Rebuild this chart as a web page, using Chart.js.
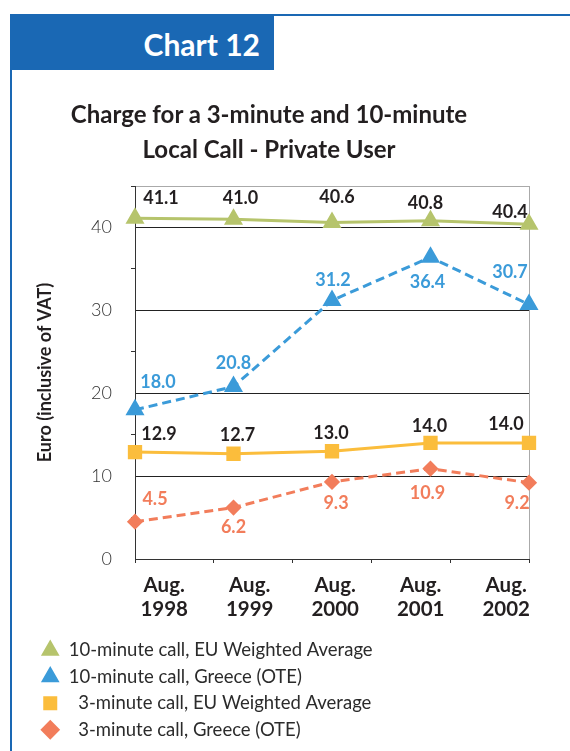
<!DOCTYPE html>
<html>
<head>
<meta charset="utf-8">
<script src="https://cdn.jsdelivr.net/npm/chart.js@4/dist/chart.umd.min.js"></script>
<style>
  html, body { margin: 0; padding: 0; background: #fff; }
  #page { position: relative; width: 570px; height: 751px; overflow: hidden; font-family: Lato, sans-serif; }
  #c { position: absolute; left: 0; top: 0; }
  .bar-top { position: absolute; left: 10px; top: 14px; width: 560px; height: 2px; background: #1a68b4; }
  .bar-left { position: absolute; left: 10px; top: 14px; width: 2px; height: 737px; background: #1a68b4; }
  .header { position: absolute; left: 10px; top: 15px; width: 264px; height: 55px; background: #1a68b4;
            color: #fff; font: bold 30px Lato, sans-serif; text-align: right; box-sizing: border-box;
            padding-right: 14px; line-height: 58px; }
  .title { position: absolute; left: 0; top: 96px; width: 538px; text-align: center; color: #231f20;
           font: bold 24px Lato, sans-serif; line-height: 35px; }
</style>
</head>
<body>
<div id="page">
  <canvas id="c" width="570" height="751"></canvas>
  <div class="bar-top"></div>
  <div class="bar-left"></div>
  <div class="header">Chart 12</div>
  <div class="title">Charge for a 3-minute and 10-minute<br>Local Call - Private User</div>
</div>
<script>
// ---- data ----
const categories = ['Aug. 1998', 'Aug. 1999', 'Aug. 2000', 'Aug. 2001', 'Aug. 2002'];
const tenMinEU = [41.1, 41.0, 40.6, 40.8, 40.4];
const tenMinGreece = [18.0, 20.8, 31.2, 36.4, 30.7];
const threeMinEU = [12.9, 12.7, 13.0, 14.0, 14.0];
const threeMinGreece = [4.5, 6.2, 9.3, 10.9, 9.2];
const yTickLabels = [0, 10, 20, 30, 40];
const seriesNames = [
  '10-minute call, EU Weighted Average',
  '10-minute call, Greece (OTE)',
  '  3-minute call, EU Weighted Average',
  '  3-minute call, Greece (OTE)'
];

// ---- styling (label nudges, in px, relative to each point) ----
const labelShift = [
  [[26,-20],[7,-21],[5,-25],[-5,-18],[-19,-12]],
  [[23,-28],[0,-23],[1,-20],[-3,25],[-19,-32]],
  [[24,-18],[4,-19],[-1,-18],[-1,-17],[-23,-19]],
  [[20,-23],[0,20],[4,21],[-3,25],[-12,20]]
];
const labelColors = ['#231f20', '#3b9bd9', '#231f20', '#f27d5b'];

const valueLabels = {
  id: 'valueLabels',
  afterDatasetsDraw(chart) {
    const ctx = chart.ctx;
    ctx.save();
    ctx.font = 'bold 18px Lato, sans-serif';
    ctx.textAlign = 'center';
    ctx.textBaseline = 'middle';
    chart.data.datasets.forEach((ds, di) => {
      const meta = chart.getDatasetMeta(di);
      ctx.fillStyle = labelColors[di];
      meta.data.forEach((pt, i) => {
        const s = labelShift[di][i];
        ctx.fillText(ds.data[i].toFixed(1), pt.x + s[0], pt.y + s[1]);
      });
    });
    ctx.restore();
  }
};

Chart.defaults.font.family = 'Lato, sans-serif';
Chart.defaults.color = '#333';

new Chart(document.getElementById('c'), {
  type: 'line',
  data: {
    labels: categories,
    datasets: [
      { label: seriesNames[0], data: tenMinEU, borderColor: '#b6c46c', backgroundColor: '#b6c46c',
        borderWidth: 3, pointStyle: 'triangle', pointRadius: 8, clip: false },
      { label: seriesNames[1], data: tenMinGreece, borderColor: '#3b9bd9', backgroundColor: '#3b9bd9',
        borderWidth: 3, borderDash: [9, 5], pointStyle: 'triangle', pointRadius: 8, clip: false },
      { label: seriesNames[2], data: threeMinEU, borderColor: '#fbbd3c', backgroundColor: '#fbbd3c',
        borderWidth: 3, pointStyle: 'rect', pointRadius: 8, clip: false },
      { label: seriesNames[3], data: threeMinGreece, borderColor: '#f27d5b', backgroundColor: '#f27d5b',
        borderWidth: 3, borderDash: [9, 5], pointStyle: 'rectRot', pointRadius: 6, clip: false }
    ]
  },
  options: {
    responsive: false,
    animation: false,
    events: [],
    layout: { padding: { left: 33, right: 41, top: 186, bottom: 2 } },
    plugins: {
      tooltip: { enabled: false },
      legend: {
        position: 'bottom',
        align: 'start',
        labels: {
          usePointStyle: true,
          boxHeight: 11,
          padding: 8,
          color: '#2b2b2b',
          font: { size: 18.5 }
        }
      }
    },
    scales: {
      x: { type: 'category', display: false, offset: false },
      xTicks: {
        type: 'linear', position: 'bottom', min: 0, max: 5, weight: 0,
        afterBuildTicks: (s) => { s.ticks = [0,1,2,3,4,5].map(v => ({ value: v })); },
        afterFit: (s) => { s.height = 4; },
        ticks: { display: false },
        grid: {
          drawOnChartArea: true, tickLength: 4,
          color: (c) => (c.tick && c.tick.value === 5 ? '#aaa' : 'rgba(0,0,0,0)'),
          tickColor: '#333'
        },
        border: { display: true, color: '#333', width: 1 }
      },
      xLab: {
        type: 'linear', position: 'bottom', min: -0.3415, max: 4.2667, weight: 1,
        afterBuildTicks: (s) => { s.ticks = categories.map((c, i) => ({ value: i })); },
        afterFit: (s) => { s.height = 70; },
        grid: { display: false, drawTicks: false },
        border: { display: false },
        ticks: {
          autoSkip: false, maxRotation: 0, padding: 11, color: '#231f20',
          font: { size: 20.5, weight: 'bold', lineHeight: 1.15 },
          callback: (v) => categories[v] ? categories[v].split(' ') : ''
        }
      },
      y: {
        min: 0, max: 45,
        afterBuildTicks: (s) => { s.ticks = [0,5,10,15,20,25,30,35,40,45].map(v => ({ value: v })); },
        afterFit: (s) => { s.width = 102; },
        ticks: {
          padding: 19, color: '#333', font: { size: 18, weight: '300' },
          callback: (v) => (yTickLabels.includes(v) ? String(v) : '')
        },
        grid: {
          tickLength: 4,
          color: (c) => {
            const v = c.tick ? c.tick.value : 0;
            if (v === 45) return '#aaa';
            if (v % 10 === 0 && v > 0) return '#222';
            return 'rgba(0,0,0,0)';
          },
          tickColor: (c) => (c.tick && c.tick.value % 10 === 5 ? '#333' : 'rgba(0,0,0,0)')
        },
        border: { display: true, color: '#333', width: 1 },
        title: {
          display: true, text: 'Euro (inclusive of VAT)', color: '#231f20',
          font: { size: 18, weight: 'bold' }, padding: { top: 1, bottom: 0 }
        }
      }
    }
  },
  plugins: [valueLabels]
});
</script>
</body>
</html>
